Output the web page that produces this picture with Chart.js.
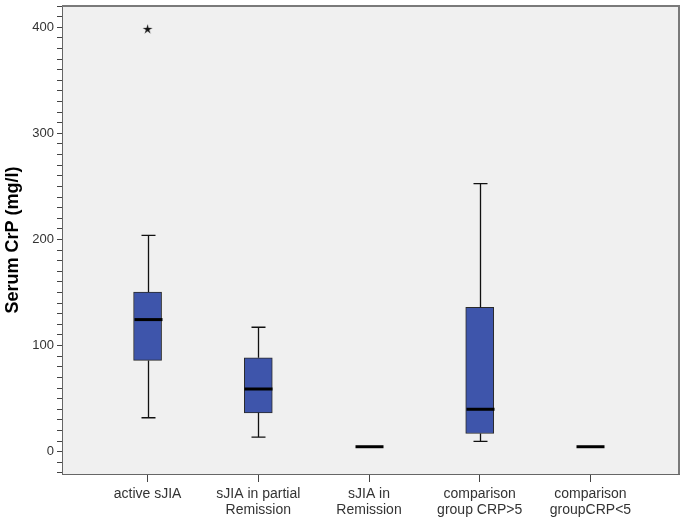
<!DOCTYPE html>
<html><head><meta charset="utf-8">
<script src="https://cdn.jsdelivr.net/npm/chart.js@4"></script>
<style>html,body{margin:0;padding:0;background:#fff}#wrap{width:685px;height:519px}</style>
</head><body><div id="wrap"><canvas id="c" width="685" height="519"></canvas></div>
<script>
const categories = [['active sJIA'], ['sJIA in partial', 'Remission'], ['sJIA in', 'Remission'], ['comparison', 'group CRP>5'], ['comparison', 'groupCRP<5']];
const whiskerLow  = [32,    13.8, 4.7, 9.7,   4.7];
const q1          = [86,    36.6, 4.7, 17.2,  4.7];
const median      = [124.5, 59.1, 4.7, 40,    4.7];
const q3          = [150.4, 88.5, 4.7, 136,   4.7];
const whiskerHigh = [203.8, 117.3, 4.7, 252.6, 4.7];
const outlierGroup = [0];
const outlierValue = [398];
const yLabelValues = [0, 100, 200, 300, 400];
const yMinorStep = 10;

const FONT = "'Liberation Sans', Arial, sans-serif";

// star marker image for outliers
const star = document.createElement('canvas');
star.width = 11; star.height = 11;
(function () {
  const g = star.getContext('2d');
  g.fillStyle = '#111';
  g.beginPath();
  for (let k = 0; k < 10; k++) {
    const r = k % 2 === 0 ? 5.2 : 1.7;
    const a = -Math.PI / 2 + k * Math.PI / 5;
    const px = 5.5 + r * Math.cos(a), py = 5.5 + r * Math.sin(a);
    if (k === 0) g.moveTo(px, py); else g.lineTo(px, py);
  }
  g.closePath();
  g.fill();
})();

const framePlugin = {
  id: 'frame',
  beforeDraw(chart) {
    const a = chart.chartArea, ctx = chart.ctx;
    ctx.save();
    ctx.fillStyle = '#f0f0f0';
    ctx.fillRect(a.left, a.top, a.right - a.left, a.bottom - a.top);
    ctx.restore();
  },
  afterDraw(chart) {
    const a = chart.chartArea, ctx = chart.ctx;
    ctx.save();
    ctx.strokeStyle = '#7a7a7a';
    ctx.lineWidth = 2;
    ctx.beginPath();
    ctx.moveTo(a.left, a.top);
    ctx.lineTo(a.right, a.top);
    ctx.lineTo(a.right, a.bottom);
    ctx.stroke();
    ctx.restore();
  }
};

const boxPlugin = {
  id: 'boxes',
  afterDatasetsDraw(chart) {
    const xs = chart.scales.x, ys = chart.scales.y, ctx = chart.ctx;
    ctx.save();
    for (let i = 0; i < categories.length; i++) {
      const x = Math.round(xs.getPixelForValue(i)) + 0.5;
      const half = 14, cap = 7;
      ctx.strokeStyle = '#111';
      ctx.lineWidth = 1.3;
      ctx.beginPath();
      if (whiskerHigh[i] > q3[i]) {
        const yH = ys.getPixelForValue(whiskerHigh[i]);
        ctx.moveTo(x, ys.getPixelForValue(q3[i])); ctx.lineTo(x, yH);
        ctx.moveTo(x - cap, yH); ctx.lineTo(x + cap, yH);
      }
      if (whiskerLow[i] < q1[i]) {
        const yL = ys.getPixelForValue(whiskerLow[i]);
        ctx.moveTo(x, ys.getPixelForValue(q1[i])); ctx.lineTo(x, yL);
        ctx.moveTo(x - cap, yL); ctx.lineTo(x + cap, yL);
      }
      ctx.stroke();
      ctx.lineWidth = 3;
      ctx.strokeStyle = '#000';
      ctx.beginPath();
      const yM = ys.getPixelForValue(median[i]);
      ctx.moveTo(x - half, yM); ctx.lineTo(x + half, yM);
      ctx.stroke();
    }
    ctx.restore();
  }
};

new Chart(document.getElementById('c'), {
  type: 'bar',
  data: {
    datasets: [
      {
        type: 'bar',
        data: categories.map((_, i) => ({ x: i, y: [q1[i], q3[i]] })),
        backgroundColor: '#3e55ab',
        borderColor: '#2a2a2a',
        borderWidth: 1,
        borderSkipped: false,
        barThickness: 28
      },
      {
        type: 'scatter',
        data: outlierGroup.map((g, k) => ({ x: g, y: outlierValue[k] })),
        pointStyle: star,
        pointRadius: 5
      }
    ]
  },
  options: {
    responsive: false,
    animation: false,
    devicePixelRatio: 1,
    layout: { padding: { top: 0, right: 3, bottom: 0, left: 0 } },
    plugins: { legend: { display: false }, tooltip: { enabled: false } },
    scales: {
      x: {
        type: 'linear',
        min: -0.773,
        max: 4.8,
        offset: false,
        afterBuildTicks(scale) { scale.ticks = categories.map((_, i) => ({ value: i })); },
        afterFit(scale) { scale.height = 45; scale.paddingLeft = 0; scale.paddingRight = 0; },
        grid: { display: true, drawOnChartArea: false, drawTicks: true, tickLength: 8, color: '#444', offset: false },
        border: { display: true, color: '#666', width: 1 },
        ticks: {
          autoSkip: false, maxRotation: 0, minRotation: 0, padding: 4,
          color: '#333',
          font: { family: FONT, size: 14, lineHeight: 1.15 },
          callback: (v) => categories[v]
        }
      },
      y: {
        type: 'linear',
        min: -21,
        max: 420,
        afterBuildTicks(scale) {
          const t = [];
          for (let v = -20; v <= 420; v += yMinorStep) t.push({ value: v });
          scale.ticks = t;
        },
        afterFit(scale) { scale.width = 62; scale.paddingTop = 0; scale.paddingBottom = 0; },
        grid: { display: true, drawOnChartArea: false, drawTicks: true, tickLength: 5, color: '#444' },
        border: { display: true, color: '#666', width: 1 },
        ticks: {
          autoSkip: false, padding: 3,
          color: '#333',
          font: { family: FONT, size: 13 },
          callback: (v) => yLabelValues.includes(v) ? String(v) : ''
        },
        title: {
          display: true,
          text: 'Serum CrP (mg/l)',
          color: '#000',
          font: { family: FONT, size: 18, weight: 'bold' },
          padding: { top: 2, bottom: 0 }
        }
      }
    }
  },
  plugins: [framePlugin, boxPlugin]
});
</script>
</body></html>
